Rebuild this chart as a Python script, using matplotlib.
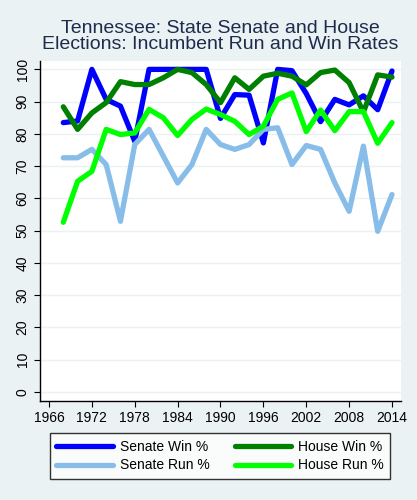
import numpy as np
import matplotlib
matplotlib.use("Agg")
import matplotlib.pyplot as plt

plt.rcParams['font.family'] = ['Liberation Sans', 'DejaVu Sans']

years = list(range(1968, 2016, 2))

senate_win = [83.5, 84, 100, 90.7, 88.6, 77.7, 100, 100, 100, 100, 100, 84.8,
              92.2, 92, 77.2, 100, 99.6, 92.5, 83.8, 90.7, 89, 91.8, 87.5, 99.5]
senate_run = [72.6, 72.6, 75.2, 70.5, 52.9, 76.7, 81.4, 73.1, 64.8, 70.5, 81.4, 76.7,
              75.2, 76.7, 81.4, 81.9, 70.5, 76.4, 75.2, 64.8, 56, 76.2, 49.8, 61.2]
house_win = [88.4, 81.4, 86.5, 89.7, 96.2, 95.3, 95.3, 97.4, 100, 99, 95.3, 89.7,
             97.4, 93.8, 97.9, 98.8, 97.9, 95.2, 99, 99.8, 95.9, 86.8, 98.3, 97.6]
house_run = [52.6, 65.3, 68.4, 81.4, 79.8, 80.3, 87.6, 85, 79.5, 84.5, 87.7, 86,
             83.9, 79.8, 82.4, 90.7, 92.7, 80.7, 87.4, 81, 86.9, 86.9, 77.1, 83.5]

xticks = list(range(1966, 2020, 6))
yticks = list(range(0, 110, 10))

bg = '#eaf2f3'
fig = plt.figure(figsize=(4.17, 5.0), dpi=100, facecolor=bg)
ax = fig.add_axes([40 / 417, 99 / 500, 361 / 417, 340 / 500])
ax.set_facecolor('white')

lw = 3.8
series = [
    (senate_win, '#0000ff', 'Senate Win %'),
    (senate_run, '#87bde8', 'Senate Run %'),
    (house_win, '#008000', 'House Win %'),
    (house_run, '#00ff00', 'House Run %'),
]
for vals, col, lab in series:
    ax.plot(years, vals, color=col, linewidth=lw, label=lab, solid_capstyle='round')

ax.set_xlim(1964.74, 2015.26)
ax.set_ylim(-2.8, 102.6)
ax.set_xticks(xticks)
ax.set_yticks(yticks)
ax.set_yticklabels([str(t) for t in yticks], rotation=90, va='center')
ax.grid(axis='y', color=bg, linewidth=1)
ax.set_axisbelow(True)
ax.tick_params(direction='out', length=4, width=0.8, labelsize=10, colors='black')
for s in ['top', 'right']:
    ax.spines[s].set_visible(False)
for s in ['left', 'bottom']:
    ax.spines[s].set_color('black')
    ax.spines[s].set_linewidth(1)

fig.suptitle("Tennessee: State Senate and House\nElections: Incumbent Run and Win Rates",
             x=0.528, y=0.96, fontsize=14.0, color='#1e2b4d', linespacing=0.94)

leg = fig.legend(loc='center', bbox_to_anchor=(220 / 417, 1 - 456 / 500), ncol=2,
                 frameon=True, fancybox=False, edgecolor='black', fontsize=10,
                 handlelength=4.1, columnspacing=1.8, handletextpad=0.5,
                 labelspacing=0.35, borderpad=0.45, borderaxespad=0)
leg.get_frame().set_linewidth(1)

fig.savefig('out.png', dpi=100, facecolor=bg)
